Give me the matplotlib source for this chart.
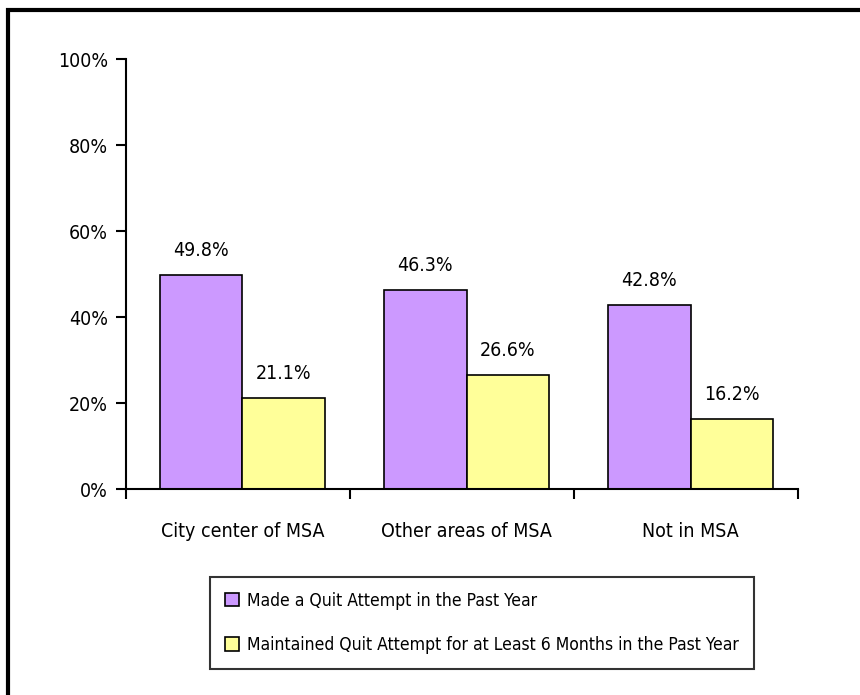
import numpy as np
import matplotlib.pyplot as plt
from matplotlib.patches import Rectangle

plt.rcParams['font.family'] = ['DejaVu Sans']
plt.rcParams['font.stretch'] = 'condensed'

categorias = ['City center of MSA', 'Other areas of MSA', 'Not in MSA']
intento = [49.8, 46.3, 42.8]
mantenido = [21.1, 26.6, 16.2]
serie1 = 'Made a Quit Attempt in the Past Year'
serie2 = 'Maintained Quit Attempt for at Least 6 Months in the Past Year'
yticks = [0, 20, 40, 60, 80, 100]

fig = plt.figure(figsize=(8.6, 6.95), dpi=100)
ax = fig.add_axes([0.1465, 0.2964, 0.928 - 0.1465, 0.915 - 0.2964])

x = np.arange(len(categorias))
w = 0.37
b1 = ax.bar(x - w / 2 + 0.02, intento, w, color='#CC99FF', edgecolor='black', linewidth=1.2, label=serie1)
b2 = ax.bar(x + w / 2 + 0.02, mantenido, w, color='#FFFF99', edgecolor='black', linewidth=1.2, label=serie2)

for barras in (b1, b2):
    for r in barras:
        ax.text(r.get_x() + r.get_width() / 2, r.get_height() + 3.5, f'{r.get_height():.1f}%',
                ha='center', va='bottom', fontsize=14)

ax.set_xlim(-0.5, 2.5)
ax.set_ylim(0, 100)
ax.set_yticks(yticks)
ax.set_yticklabels([f'{v}%' for v in yticks], fontsize=14)
ax.set_xticks([-0.5, 0.5, 1.5, 2.5])
ax.set_xticklabels([])
ax.set_xticks(x + 0.02, minor=True)
ax.set_xticklabels(categorias, minor=True, fontsize=14)
ax.tick_params(axis='x', which='minor', length=0, pad=24)
ax.tick_params(axis='x', which='major', direction='out', length=7, width=1.5)
ax.tick_params(axis='y', direction='out', length=7, width=1.5, pad=6)
ax.spines['top'].set_visible(False)
ax.spines['right'].set_visible(False)
ax.spines['left'].set_linewidth(1.5)
ax.spines['bottom'].set_linewidth(1.5)

leg = fig.legend(loc='upper left', bbox_to_anchor=(210 / 860, 1 - 577 / 695), fontsize=12.6,
                 frameon=True, fancybox=False, edgecolor='black', handlelength=0.8, handleheight=0.8,
                 handletextpad=0.45, labelspacing=1.5, borderpad=0.85, borderaxespad=0)
leg.get_frame().set_linewidth(1.5)

fig.patches.append(Rectangle((8 / 860, -0.1), 1.2, 1 - 10 / 695 + 0.1, transform=fig.transFigure,
                             fill=False, edgecolor='black', linewidth=3))

fig.savefig('out.png', dpi=100)
